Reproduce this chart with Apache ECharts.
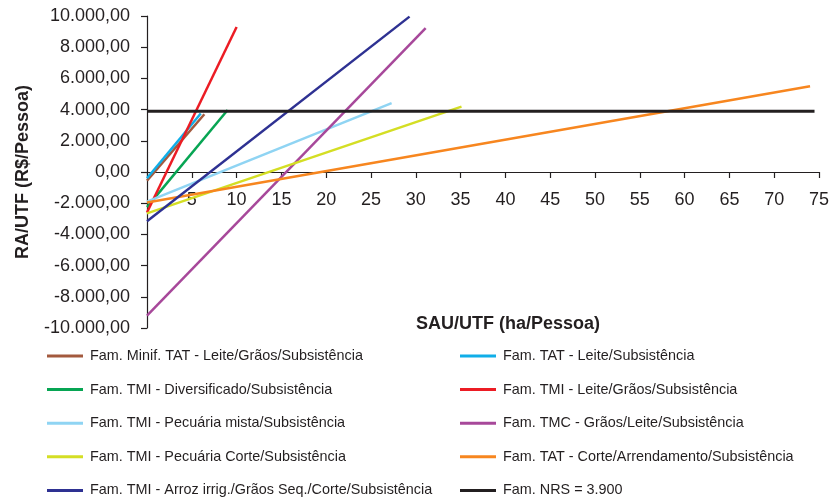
<!DOCTYPE html>
<html>
<head>
<meta charset="utf-8">
<script src="https://cdn.jsdelivr.net/npm/echarts@6/dist/echarts.min.js"></script>
<style>
  html, body { margin: 0; padding: 0; background: #ffffff; }
  #chart { width: 832px; height: 501px; }
</style>
</head>
<body>
<div id="chart"></div>
<script>
// Series names (legend order follows the two columns below)
const seriesNames = [
  'Fam. Minif. TAT - Leite/Grãos/Subsistência',
  'Fam. TAT - Leite/Subsistência',
  'Fam. TMI - Diversificado/Subsistência',
  'Fam. TMI - Leite/Grãos/Subsistência',
  'Fam. TMI - Pecuária mista/Subsistência',
  'Fam. TMC - Grãos/Leite/Subsistência',
  'Fam. TMI - Pecuária Corte/Subsistência',
  'Fam. TAT - Corte/Arrendamento/Subsistência',
  'Fam. TMI - Arroz irrig./Grãos Seq./Corte/Subsistência',
  'Fam. NRS = 3.900'
];
const seriesColors = [
  '#a35a3e', '#10aee8', '#07a553', '#ec1c24', '#8fd4f3',
  '#a7489a', '#d4de24', '#f7861f', '#2e3192', '#231f20'
];
// Start and end of each straight line: SAU/UTF (ha/Pessoa) vs RA/UTF (R$/Pessoa)
const xStart = [0, 0, 0, 0, 0, 0, 0, 0, 0, 0];
const yStart = [-550, -400, -2250, -2600, -1900, -9200, -2650, -1950, -3150, 3900];
const xEnd   = [6.4, 6.0, 9.0, 10.0, 27.3, 31.1, 35.1, 74.0, 29.3, 74.5];
const yEnd   = [3700, 3750, 3970, 9300, 4420, 9230, 4190, 5490, 9960, 3900];

// Axis settings
const xTicks = { min: 0, max: 75, interval: 5 };
const yTicks = { min: -10000, max: 10000, interval: 2000 };

const legendLeft  = [0, 2, 4, 6, 8];
const legendRight = [1, 3, 5, 7, 9];

const FONT = "'Liberation Sans', Arial, Helvetica, sans-serif";
const INK = '#231f20';

const GRID = { left: 147, right: 13, top: 16, bottom: 173 };
const plotHeight = 501 - GRID.top - GRID.bottom;

function formatBR(v) {
  const neg = v < 0;
  const parts = Math.abs(v).toFixed(2).split('.');
  const intPart = parts[0].replace(/\B(?=(\d{3})+(?!\d))/g, '.');
  return (neg ? '-' : '') + intPart + ',' + parts[1];
}

const series = seriesNames.map((name, i) => ({
  name: name,
  type: 'line',
  data: [[xStart[i], yStart[i]], [xEnd[i], yEnd[i]]],
  showSymbol: false,
  symbol: 'none',
  silent: true,
  color: seriesColors[i],
  lineStyle: { color: seriesColors[i], width: i === 9 ? 3 : 2.5 },
  z: 2
}));

function legendFor(indices, left) {
  return {
    orient: 'vertical',
    left: left,
    top: 349,
    padding: 0,
    itemWidth: 36,
    itemHeight: 3,
    itemGap: 19.6,
    icon: 'rect',
    selectedMode: false,
    data: indices.map(i => seriesNames[i]),
    textStyle: { fontFamily: FONT, fontSize: 14.4, color: INK, padding: [0, 0, 0, 2] }
  };
}

// The horizontal axis sits on the zero line of the vertical axis
const zeroOffset = -plotHeight * (0 - yTicks.min) / (yTicks.max - yTicks.min);

const chart = echarts.init(document.getElementById('chart'), null, { renderer: 'canvas' });
chart.setOption({
  animation: false,
  backgroundColor: '#ffffff',
  grid: Object.assign({ containLabel: false, outerBoundsMode: 'none' }, GRID),
  legend: [legendFor(legendLeft, 47), legendFor(legendRight, 460)],
  xAxis: {
    type: 'value',
    position: 'bottom',
    offset: zeroOffset,
    min: xTicks.min,
    max: xTicks.max,
    interval: xTicks.interval,
    axisLine: { onZero: false, lineStyle: { color: INK, width: 1.2 } },
    axisTick: { show: true, length: 6, lineStyle: { color: INK, width: 1.2 } },
    axisLabel: {
      margin: 19,
      fontFamily: FONT, fontSize: 18, color: INK,
      formatter: v => (v === 0 ? '' : String(v))
    },
    splitLine: { show: false }
  },
  yAxis: {
    type: 'value',
    min: yTicks.min,
    max: yTicks.max,
    interval: yTicks.interval,
    name: 'RA/UTF (R$/Pessoa)',
    nameLocation: 'middle',
    nameGap: 115,
    nameTextStyle: { fontFamily: FONT, fontSize: 18, fontWeight: 'bold', color: INK },
    axisLine: { show: true, lineStyle: { color: INK, width: 1.2 } },
    axisTick: { show: true, length: 6, lineStyle: { color: INK, width: 1.2 } },
    axisLabel: { margin: 17, fontFamily: FONT, fontSize: 18, color: INK, formatter: formatBR },
    splitLine: { show: false }
  },
  graphic: [{
    type: 'text',
    left: 416,
    top: 315,
    style: {
      text: 'SAU/UTF (ha/Pessoa)',
      fontFamily: FONT, fontSize: 18, fontWeight: 'bold', fill: INK
    }
  }],
  series: series
});
</script>
</body>
</html>
